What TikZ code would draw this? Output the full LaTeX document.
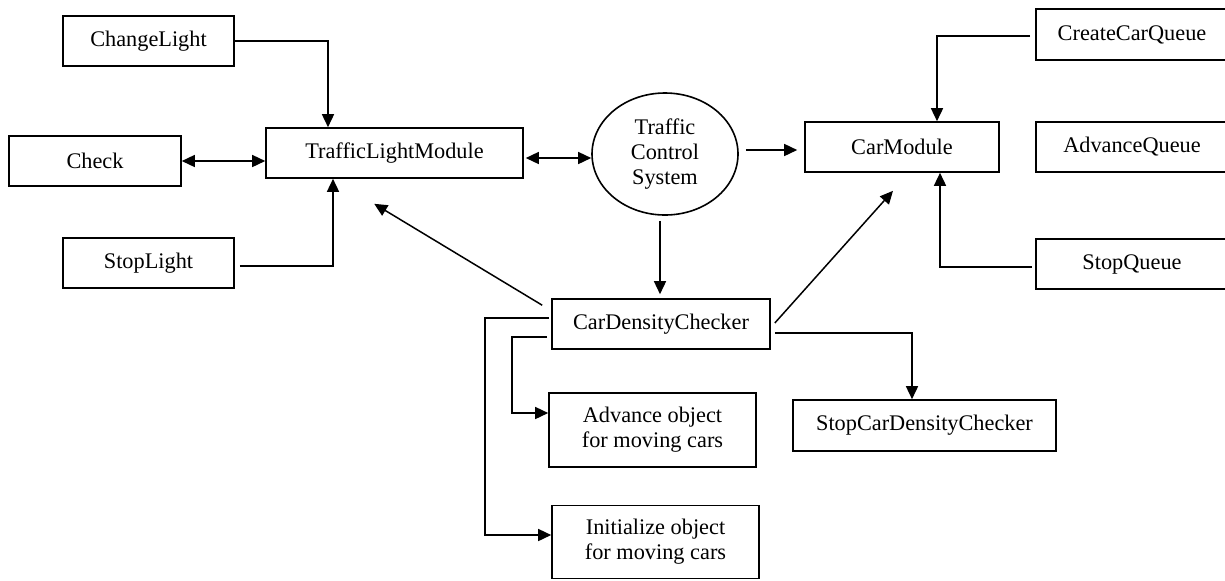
\documentclass[tikz,border=0pt]{standalone}
\usepackage{fontspec}
\setmainfont{Liberation Serif}
\usetikzlibrary{arrows.meta,calc,shapes.geometric}

\tikzset{
  box/.style={draw, line width=0.8pt, inner sep=0pt, align=center,
    font=\fontsize{11.15}{12.6}\selectfont},
  link/.style={line width=0.75pt, -{Triangle[length=6.5pt,width=6pt]}},
  both/.style={line width=0.75pt,
    {Triangle[length=6.5pt,width=6pt]}-{Triangle[length=6.5pt,width=6pt]}},
}

\begin{document}
\begin{tikzpicture}[x=0.5pt, y=-0.5pt]
\useasboundingbox (0,0) rectangle (1225,580);

% light side
\node[box, minimum width=85.5pt, minimum height=25pt] (changelight) at (148.5,41) {ChangeLight};
\node[box, minimum width=86pt, minimum height=25pt] (check) at (95,161) {Check};
\node[box, minimum width=128.5pt, minimum height=25pt] (tlm) at (394.5,153) {TrafficLightModule};
\node[box, minimum width=85.5pt, minimum height=25pt] (stoplight) at (148.5,263) {StopLight};

% centre
\node[box, ellipse, minimum width=73pt, minimum height=61pt] (tcs) at (665,154) {Traffic\\Control\\System};

% car side
\node[box, minimum width=97pt, minimum height=25pt] (carmodule) at (902,147) {CarModule};
\node[box, minimum width=96pt, minimum height=25.5pt] (createq) at (1132,34.5) {CreateCarQueue};
\node[box, minimum width=96pt, minimum height=25pt] (advq) at (1132,147) {AdvanceQueue};
\node[box, minimum width=96pt, minimum height=25pt] (stopq) at (1132,264) {StopQueue};

% density checker
\node[box, minimum width=109pt, minimum height=25pt] (cdc) at (661,324) {CarDensityChecker};
\node[box, minimum width=103.5pt, minimum height=37pt] (advobj) at (652.5,430) {Advance object\\for moving cars};
\node[box, minimum width=103.5pt, minimum height=36.5pt] (initobj) at (655.5,542) {Initialize object\\for moving cars};
\node[box, minimum width=131.5pt, minimum height=25.5pt] (stopcdc) at (924.5,425.5) {StopCarDensityChecker};

% into the light module
\draw[link] (changelight.east) -| ($(tlm.north)+(-66.5,0)$);
\draw[both] (check.east) -- (check.east -| tlm.west);
\draw[link] ($(stoplight.east)+(5,3)$) -| ($(tlm.south)+(-61.5,0)$);
\draw[both] ($(tlm.east)+(2,5)$) -- ($(tcs.west)+(0,4)$);

% out of the system
\draw[link] ($(tcs.east)+(7,-4)$) -- ($(carmodule.west)+(-7,3)$);
\draw[link] ($(tcs.south)+(-5,5)$) -- ($(cdc.north)+(-1,-4)$);

% into the car module
\draw[link] ($(createq.west)+(-5,1.5)$) -| ($(carmodule.north)+(35,0)$);
\draw[link] ($(stopq.west)+(-3,3)$) -| ($(carmodule.south)+(38,0)$);

% from the density checker
\draw[link] ($(cdc.north west)+(-9,7)$) -- ($(tlm.south west)+(109,25)$);
\draw[link] ($(cdc.east)+(4,-1)$) -- ($(carmodule.south)+(-9,18)$);
\draw[link] ($(cdc.east)+(4,9)$) -| ($(stopcdc.north)+(-12.5,0)$);
\draw[link] ($(cdc.west)+(-4,13)$) -- ++(-35,0) |- ($(advobj.west)+(0,-17)$);
\draw[link] ($(cdc.west)+(-2,-6)$) -- ++(-64,0) |- ($(initobj.west)+(0,-7)$);
\end{tikzpicture}
\end{document}
